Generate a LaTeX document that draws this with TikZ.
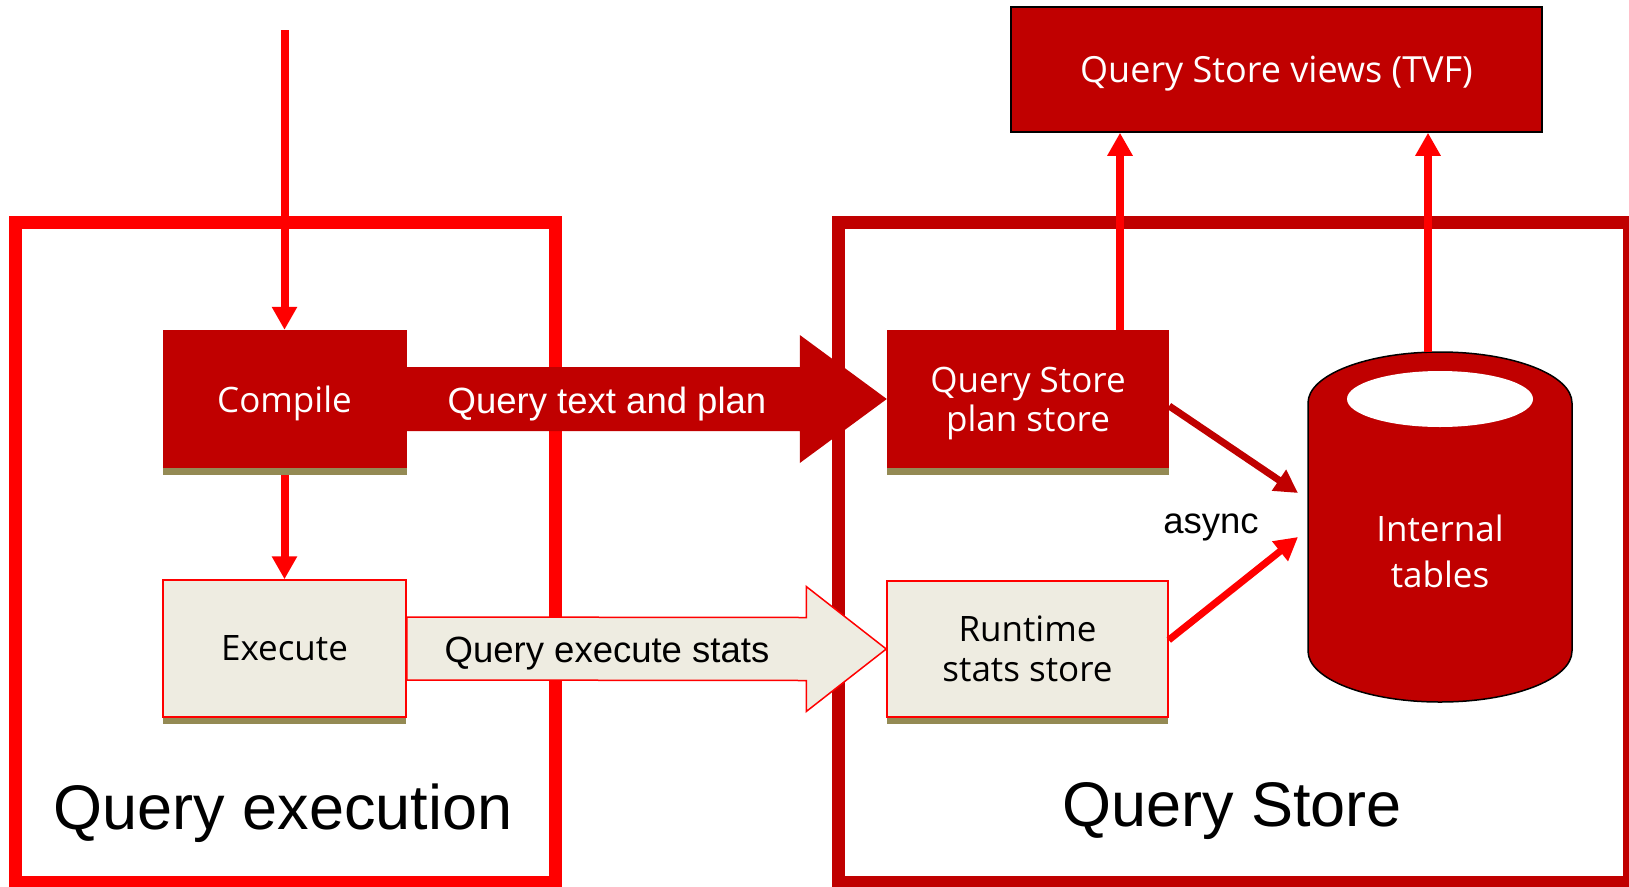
\documentclass[tikz,border=0pt]{standalone}
\usepackage{fontspec}
\setmainfont{Open Sans}
\newfontfamily\arialfont{Liberation Sans}
\usetikzlibrary{arrows.meta,positioning,calc,shadows}
\definecolor{qsdark}{HTML}{C00000}
\definecolor{qsred}{HTML}{FF0000}
\definecolor{qsbeige}{HTML}{EEECE1}
\definecolor{qsolive}{HTML}{948A54}

\begin{document}
\begin{tikzpicture}[x=1pt,y=-1pt,
	boxshadow/.style={drop shadow={shadow xshift=0pt,shadow yshift=-7pt,fill=qsolive,opacity=1}},
	darkbox/.style={rectangle,fill=qsdark,text=white,align=center,font=\fontsize{35}{39}\selectfont,text depth=0pt,boxshadow},
	lightbox/.style={rectangle,fill=qsbeige,draw=qsred,line width=1.5pt,text=black,align=center,font=\fontsize{35}{40}\selectfont,boxshadow},
	flowarrow/.style={qsred,line width=8pt,-{Triangle[width=24pt,length=23pt]}},
	flowlbl/.style={font=\arialfont\fontsize{36.5}{40}\selectfont,anchor=base,inner sep=0pt},
	framelbl/.style={font=\arialfont\fontsize{63}{70}\selectfont,anchor=base,inner sep=0pt},
	bigframe/.style={rectangle,line width=13pt,minimum width=#1,minimum height=660pt}
	]
	\useasboundingbox (0,0) rectangle (1629,886); %Page size in px
	%Frames%
	%===========================================================
	\node[bigframe=540pt,draw=qsred] (qexec) at (285,552) {}; %Query execution frame
	\node[bigframe=790.5pt,draw=qsdark] (qstore) at (1234,552) {}; %Query Store frame
	%Boxes%
	%===========================================================
	\node[darkbox,minimum width=244pt,minimum height=138pt] (compile) at (284.5,399) {Compile};
	\node[lightbox,minimum width=243pt,minimum height=137pt] (execute) at (284.5,648.5) {Execute};
	\node[darkbox,minimum width=282pt,minimum height=138pt] (planstore) at (1028,399) {Query Store\\plan store};
	\node[lightbox,minimum width=281pt,minimum height=136pt] (runstore) at (1027.5,649) {Runtime\\stats store};
	\node[rectangle,fill=qsdark,draw=black,line width=1.5pt,text=white,font=\fontsize{36}{40}\selectfont,text depth=0pt,minimum width=531pt,minimum height=125pt] (tvf) at (1276.5,69.5) {Query Store views (TVF)};
	%Internal tables cylinder
	\node[rectangle,minimum width=264pt,minimum height=350pt,inner sep=0pt,outer sep=0pt] (tables) at (1440,527) {};
	\draw[fill=qsdark,draw=black,line width=1.5pt] ([yshift=-51pt]tables.north west) -- ([yshift=51pt]tables.south west) arc[start angle=180,end angle=360,x radius=132pt,y radius=51pt] -- ([yshift=-51pt]tables.north east) arc[start angle=0,end angle=180,x radius=132pt,y radius=51pt] -- cycle;
	\fill[white] ([yshift=-47pt]tables.north) ellipse[x radius=93pt,y radius=28pt]; %Top opening
	\node[text=white,align=center,font=\fontsize{35}{46}\selectfont] (tablestxt) at ([yshift=-24pt]tables.center) {Internal\\tables};
	%Block arrows%
	%===========================================================
	\fill[qsdark] ([yshift=32pt]compile.east) -- ([xshift=-87pt,yshift=32pt]planstore.west) -- ([xshift=-87pt,yshift=64pt]planstore.west) -- (planstore.west) -- ([xshift=-87pt,yshift=-64pt]planstore.west) -- ([xshift=-87pt,yshift=-32pt]planstore.west) -- ([yshift=-32pt]compile.east) -- cycle; %Plan arrow
	\filldraw[fill=qsbeige,draw=qsred,line width=1.5pt] ([yshift=31.5pt]execute.east) -- ([xshift=-80pt,yshift=31.5pt]runstore.west) -- ([xshift=-80pt,yshift=62.5pt]runstore.west) -- (runstore.west) -- ([xshift=-80pt,yshift=-62.5pt]runstore.west) -- ([xshift=-80pt,yshift=-31.5pt]runstore.west) -- ([yshift=-31.5pt]execute.east) -- cycle; %Stats arrow
	\node[flowlbl,text=white] (qtplbl) at (607,413) {Query text and plan};
	\node[flowlbl] (qeslbl) at (607,662) {Query execute stats};
	\node[flowlbl] (asynclbl) at (1211,533) {async};
	\node[framelbl] (qexeclbl) at (283,829) {Query execution};
	\node[framelbl] (qstorelbl) at (1232,826) {Query Store};
	%Connectors%
	%===========================================================
	\coordinate (qin) at (284.5,30); %Incoming query
	\draw[flowarrow] (qin) -- (compile.north);
	\draw[flowarrow] ([yshift=-7pt]compile.south) -- (execute.north);
	\draw[flowarrow] ([xshift=92pt]planstore.north) -- ([xshift=92pt]planstore.north |- tvf.south);
	\draw[flowarrow] ([xshift=-12pt]tables.north) -- ([xshift=-12pt]tables.north |- tvf.south);
	\draw[flowarrow,qsdark,line width=7pt] ([yshift=-7pt]planstore.east) -- ([xshift=-10pt,yshift=34pt]tables.west); %async plan
	\draw[flowarrow,line width=7pt] ([yshift=9pt]runstore.east) -- ([xshift=-10pt,yshift=-10pt]tables.west); %async stats
\end{tikzpicture}
\end{document}
